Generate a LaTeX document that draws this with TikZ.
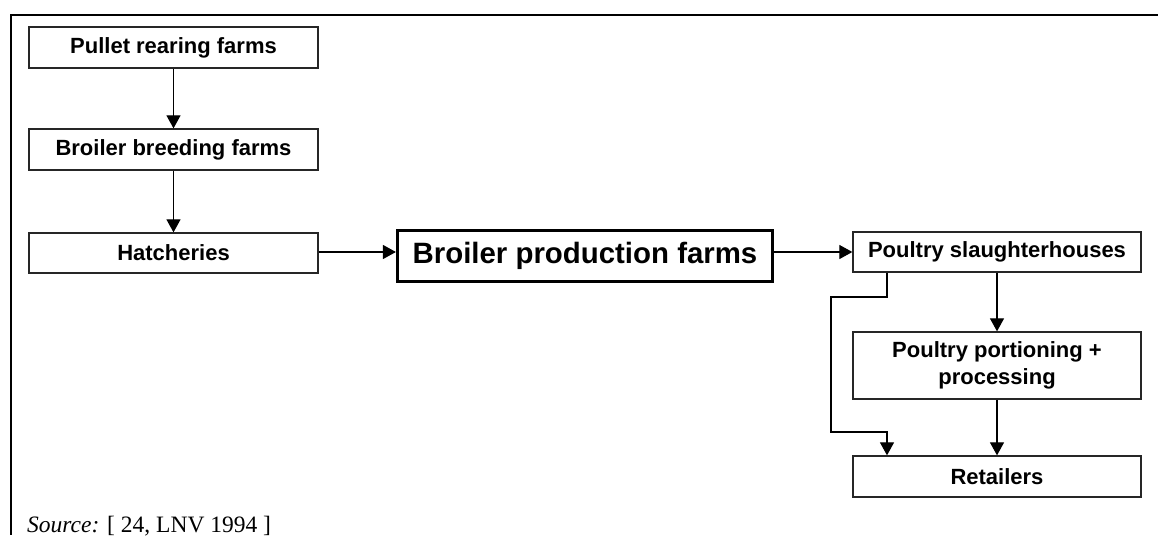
\documentclass[tikz,border=0pt]{standalone}
\usepackage{fontspec}
\setmainfont{Liberation Serif}
\newfontfamily\arialfont{Liberation Sans}
\usetikzlibrary{arrows.meta}
\tikzset{
  box/.style={draw=black!85, line width=1.3pt, fill=white, inner sep=0pt,
    font=\arialfont\bfseries\fontsize{22}{27}\selectfont, align=center},
  bigbox/.style={draw=black, line width=3.2pt, fill=white, inner sep=0pt,
    font=\arialfont\bfseries\fontsize{29.4}{34}\selectfont},
  conn/.style={draw=black, line width=1.2pt, -{Triangle[length=13pt,width=14pt]}},
  frame/.style={draw=black, line width=2.2pt}
}
\begin{document}
\begin{tikzpicture}[x=1pt,y=-1pt]
\useasboundingbox (0,0) rectangle (1158,535);
\draw[frame] (1158,15) -- (11,15) -- (11,535);

\node[box, minimum width=289pt, minimum height=41pt] (pullet) at (173.5,47.5) {Pullet rearing farms};
\node[box, minimum width=289pt, minimum height=41pt] (breed) at (173.5,149.5) {Broiler breeding farms};
\node[box, minimum width=289pt, minimum height=40pt] (hatch) at (173.5,253) {Hatcheries};
\node[bigbox, minimum width=375pt, minimum height=51pt] (prod) at (585,256) {Broiler production farms};
\node[box, minimum width=288pt, minimum height=40pt] (slaughter) at (997,252) {Poultry slaughterhouses};
\node[box, minimum width=288pt, minimum height=67pt] (portion) at (997,365.5) {Poultry portioning +\\processing};
\node[box, minimum width=288pt, minimum height=41pt] (retail) at (997,476.5) {Retailers};

\draw[conn] (pullet) -- (breed);
\draw[conn] (breed) -- (hatch);
\draw[conn] (hatch.east |- 0,252) -- (prod.west |- 0,252);
\draw[conn] (prod.east |- 0,252) -- (slaughter.west |- 0,252);
\draw[conn] (slaughter) -- (portion);
\draw[conn] (portion) -- (retail);

\coordinate (b1) at (887,297);
\coordinate (b2) at (831,297);
\coordinate (b3) at (831,432);
\coordinate (b4) at (887,432);
\draw[conn] (slaughter.south -| b1) -- (b1) -- (b2) -- (b3) -- (b4) -- (retail.north -| b4);

\node[anchor=base west, inner sep=0pt, font=\fontsize{23.5}{28}\selectfont] (src) at (27,532) {\textit{Source:} [ 24, LNV 1994 ]};
\end{tikzpicture}
\end{document}
